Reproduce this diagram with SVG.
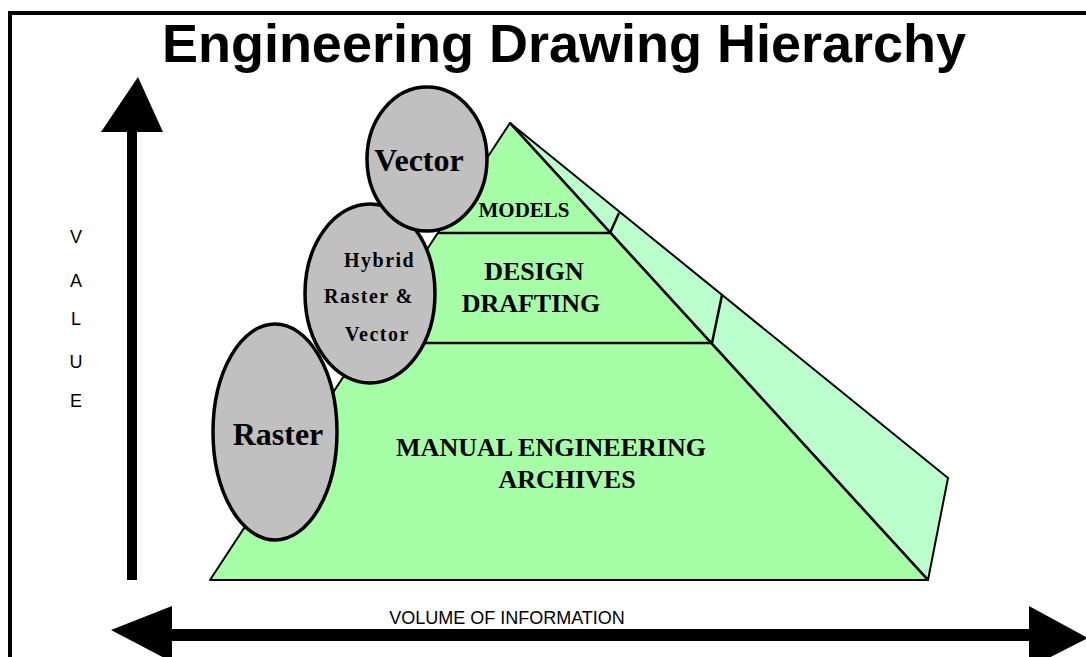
<svg xmlns="http://www.w3.org/2000/svg" width="1086" height="657" viewBox="0 0 1086 657">
<style>
.title{font-family:"Liberation Sans",Arial,sans-serif;font-weight:bold;font-size:54px;fill:#000}
.axis{font-family:"Liberation Sans",Arial,sans-serif;font-size:18px;fill:#000}
.serif{font-family:"Liberation Serif","Times New Roman",serif;font-weight:bold;fill:#000}
.ell{fill:#C0C0C0;stroke:#000;stroke-width:3.5}
.front{fill:#A6FFA6;stroke:#000;stroke-width:2;stroke-linejoin:round}
.side{fill:#BBFFCC;stroke:#000;stroke-width:2;stroke-linejoin:round}
.ln{stroke:#000;stroke-width:2.5;fill:none}
</style>
<rect width="1086" height="657" fill="#fff"/>
<g id="frame">
<path d="M10 657 V13 H1086" fill="none" stroke="#000" stroke-width="4"/>
</g>
<text class="title" x="564" y="62" text-anchor="middle">Engineering Drawing Hierarchy</text>
<g id="axes">
<polygon points="138,77 101,132 163,132" fill="#000"/>
<rect x="127" y="131" width="10" height="449" fill="#000"/>
<polygon points="111,630 172,606 172,662" fill="#000"/>
<rect x="171" y="629" width="859" height="12" fill="#000"/>
<polygon points="1029,606 1088,638 1029,668" fill="#000"/>
</g>
<g id="value-label" class="axis" text-anchor="middle">
<text x="76" y="243">V</text>
<text x="76" y="287">A</text>
<text x="76" y="325">L</text>
<text x="76" y="368">U</text>
<text x="76" y="407">E</text>
</g>
<text class="axis" x="507" y="624" text-anchor="middle">VOLUME OF INFORMATION</text>
<g id="pyramid">
<polygon class="side" points="510,123 948,478 928,580"/>
<polygon class="front" points="510,123 210,580 928,580"/>
<line class="ln" x1="510" y1="123" x2="928" y2="580" stroke-width="3"/>
<line class="ln" x1="438" y1="233" x2="610" y2="233"/>
<line class="ln" x1="366" y1="343" x2="712" y2="343"/>
<line class="ln" x1="610" y1="233" x2="619" y2="213" stroke-width="2"/>
<line class="ln" x1="712" y1="343" x2="722" y2="295" stroke-width="2"/>
</g>
<g id="models">
<text class="serif" x="524" y="217" font-size="21" text-anchor="middle">MODELS</text>
</g>
<g id="design-drafting">
<text class="serif" x="534" y="280" font-size="26" text-anchor="middle">DESIGN</text>
<text class="serif" x="531" y="312" font-size="26" text-anchor="middle">DRAFTING</text>
</g>
<g id="manual-archives">
<text class="serif" x="551" y="456" font-size="26" text-anchor="middle">MANUAL ENGINEERING</text>
<text class="serif" x="567" y="488" font-size="26" text-anchor="middle">ARCHIVES</text>
</g>
<g id="raster">
<ellipse class="ell" cx="275" cy="432" rx="62" ry="108"/>
<text class="serif" x="278" y="445" font-size="32" text-anchor="middle">Raster</text>
</g>
<g id="hybrid">
<ellipse class="ell" cx="370" cy="293.5" rx="65" ry="89.5"/>
<text class="serif" font-size="20" letter-spacing="1.5">
<tspan x="344" y="267">Hybrid</tspan>
<tspan x="324" y="303">Raster &amp;</tspan>
<tspan x="345" y="341">Vector</tspan>
</text>
</g>
<g id="vector">
<ellipse class="ell" cx="427" cy="159" rx="60" ry="72"/>
<text class="serif" x="419" y="171" font-size="32" text-anchor="middle">Vector</text>
</g>
</svg>
